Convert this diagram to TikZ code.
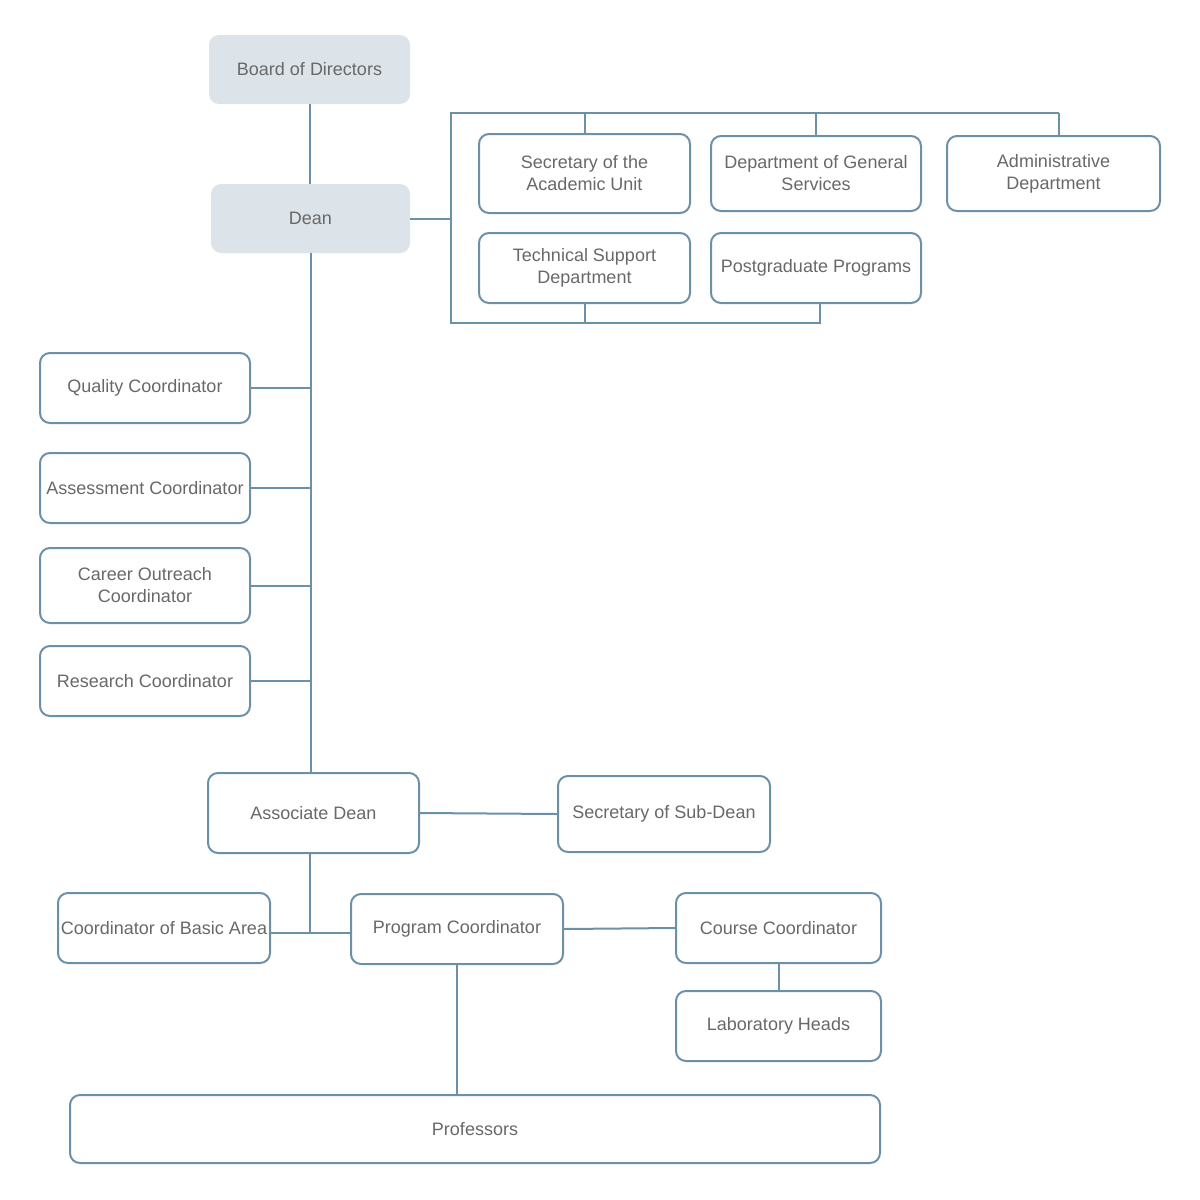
\documentclass[tikz,border=0pt]{standalone}
\usepackage{fontspec}
\setmainfont{Liberation Sans}
\usepackage{xcolor}
\definecolor{linec}{HTML}{6C90A8}
\definecolor{headfill}{HTML}{DCE4EA}
\definecolor{textc}{HTML}{686868}
\tikzset{
  unit/.style={draw=linec, line width=1pt, rounded corners=5pt, align=center,
    text=textc, font=\fontsize{9pt}{11pt}\selectfont, inner sep=1pt},
  head/.style={fill=headfill, draw=none, rounded corners=5pt, align=center,
    text=textc, font=\fontsize{9pt}{11pt}\selectfont},
  link/.style={draw=linec, line width=1pt},
}
\begin{document}
\begin{tikzpicture}[x=0.5pt,y=-0.5pt]
\useasboundingbox (0,0) rectangle (1200,1200);
% top
\node[head, minimum width=100.5pt, minimum height=34.5pt] (board) at (309.5,69.5) {Board of Directors};
\node[head, minimum width=99.5pt, minimum height=34.5pt] (dean) at (310.5,218.5) {Dean};
% staff units
\node[unit, minimum width=105.5pt, minimum height=39.5pt] (secau) at (584.5,173.5) {Secretary of the\\Academic Unit};
\node[unit, minimum width=105pt, minimum height=37.5pt] (gensrv) at (816,173.5) {Department of General\\Services};
\node[unit, minimum width=106.5pt, minimum height=37.5pt] (admin) at (1053.5,173.5) {Administrative\\Department};
\node[unit, minimum width=105.5pt, minimum height=35pt] (techsup) at (584.5,268) {Technical Support\\Department};
\node[unit, minimum width=105pt, minimum height=35pt] (postgrad) at (816,268) {Postgraduate Programs};
% coordinators
\node[unit, minimum width=105pt, minimum height=35pt] (quality) at (145,388) {Quality Coordinator};
\node[unit, minimum width=105pt, minimum height=35pt] (assess) at (145,488) {Assessment Coordinator};
\node[unit, minimum width=105pt, minimum height=37.5pt] (career) at (145,585.5) {Career Outreach\\Coordinator};
\node[unit, minimum width=105pt, minimum height=35pt] (research) at (145,681) {Research Coordinator};
% lower levels
\node[unit, minimum width=105.5pt, minimum height=40pt] (assoc) at (313.5,813) {Associate Dean};
\node[unit, minimum width=106pt, minimum height=38pt] (secsub) at (664,814) {Secretary of Sub-Dean};
\node[unit, minimum width=106pt, minimum height=35pt] (basic) at (164,928) {Coordinator of Basic Area};
\node[unit, minimum width=106pt, minimum height=35pt] (program) at (457,929) {Program Coordinator};
\node[unit, minimum width=102.5pt, minimum height=35pt] (course) at (778.5,928) {Course Coordinator};
\node[unit, minimum width=102.5pt, minimum height=35pt] (labs) at (778.5,1026) {Laboratory Heads};
\node[unit, minimum width=405pt, minimum height=34pt] (prof) at (475,1129) {Professors};
% bracket
\coordinate (btl) at (451,113);
\coordinate (btr) at (1059,113);
\coordinate (bbl) at (451,323);
\coordinate (bbr) at (820,323);
\coordinate (basicj) at (310,933);
% draw links
\draw[link] (board.south) -- (dean.north -| board.south);
\draw[link] (dean.east) -- (dean.east -| btl);
\draw[link] (btr) -- (btl) -- (bbl) -- (bbr) -- (postgrad.south -| bbr);
\draw[link] (secau.north) -- (secau.north |- btl);
\draw[link] (gensrv.north) -- (gensrv.north |- btl);
\draw[link] (btr) -- (btr |- admin.north);
\draw[link] (techsup.south) -- (techsup.south |- bbl);
\draw[link] (dean.south) -- (dean.south |- assoc.north);
\foreach \n in {quality,assess,career,research}
  \draw[link] (\n.east) -- (\n.east -| dean.south);
\draw[link] (assoc.east) -- (secsub.west);
\draw[link] (assoc.south -| basicj) -- (basicj);
\draw[link] (basic.east |- basicj) -- (program.west |- basicj);
\draw[link] (program.east) -- (course.west);
\draw[link] (course.south) -- (labs.north);
\draw[link] (program.south) -- (program.south |- prof.north);
\end{tikzpicture}
\end{document}
